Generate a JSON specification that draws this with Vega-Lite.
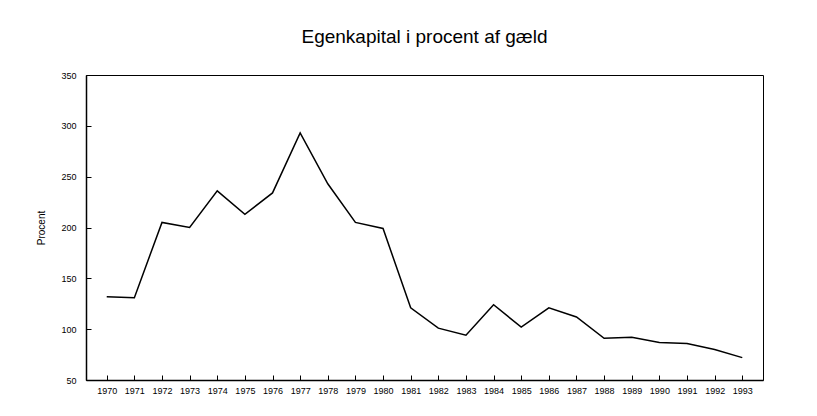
{
  "$schema": "https://vega.github.io/schema/vega-lite/v6.json",
  "width": 677,
  "height": 305,
  "autosize": {"type": "none"},
  "padding": {"left": 86, "top": 75, "right": 54, "bottom": 36},
  "background": "white",
  "title": {
    "text": "Egenkapital i procent af gæld",
    "font": "Liberation Sans",
    "fontSize": 19,
    "fontWeight": "normal",
    "color": "black",
    "anchor": "middle",
    "offset": 24
  },
  "data": {
    "values": [
      {"year": "1970", "value": 132},
      {"year": "1971", "value": 131},
      {"year": "1972", "value": 205},
      {"year": "1973", "value": 200},
      {"year": "1974", "value": 236},
      {"year": "1975", "value": 213},
      {"year": "1976", "value": 234},
      {"year": "1977", "value": 293},
      {"year": "1978", "value": 243},
      {"year": "1979", "value": 205},
      {"year": "1980", "value": 199},
      {"year": "1981", "value": 121},
      {"year": "1982", "value": 101},
      {"year": "1983", "value": 94},
      {"year": "1984", "value": 124},
      {"year": "1985", "value": 102},
      {"year": "1986", "value": 121},
      {"year": "1987", "value": 112},
      {"year": "1988", "value": 91},
      {"year": "1989", "value": 92},
      {"year": "1990", "value": 87},
      {"year": "1991", "value": 86},
      {"year": "1992", "value": 80},
      {"year": "1993", "value": 72}
    ]
  },
  "mark": {"type": "line", "color": "black", "strokeWidth": 1.5},
  "encoding": {
    "x": {
      "field": "year",
      "type": "ordinal",
      "scale": {"type": "point", "padding": 0.75},
      "axis": {
        "title": null,
        "labelAngle": 0,
        "labelFont": "Liberation Sans",
        "labelFontSize": 9,
        "labelColor": "black",
        "labelOverlap": false,
        "labelPadding": 11,
        "tickSize": -5,
        "tickColor": "black",
        "domainColor": "black",
        "domainWidth": 1.5
      }
    },
    "y": {
      "field": "value",
      "type": "quantitative",
      "scale": {"domain": [50, 350], "nice": false, "zero": false},
      "axis": {
        "title": "Procent",
        "titleFont": "Liberation Sans",
        "titleFontSize": 10,
        "titleFontWeight": "normal",
        "titleColor": "black",
        "titlePadding": 14,
        "values": [50, 100, 150, 200, 250, 300, 350],
        "grid": false,
        "labelFont": "Liberation Sans",
        "labelFontSize": 9,
        "labelColor": "black",
        "labelPadding": 15,
        "tickSize": -5,
        "tickColor": "black",
        "domainColor": "black",
        "domainWidth": 1.5
      }
    }
  },
  "config": {
    "view": {"stroke": "black", "strokeWidth": 1}
  }
}
